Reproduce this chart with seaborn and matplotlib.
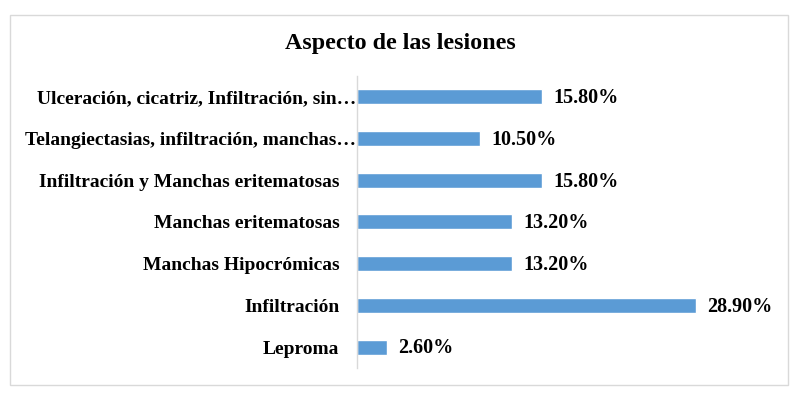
import matplotlib
matplotlib.use("Agg")
import matplotlib.pyplot as plt
import seaborn as sns
import pandas as pd
from matplotlib.patches import Rectangle

categories = [
    "Ulceración, cicatriz, Infiltración, sin…",
    "Telangiectasias, infiltración, manchas…",
    "Infiltración y Manchas eritematosas",
    "Manchas eritematosas",
    "Manchas Hipocrómicas",
    "Infiltración",
    "Leproma",
]
values = [15.8, 10.5, 15.8, 13.2, 13.2, 28.9, 2.6]
value_labels = ["15.80%", "10.50%", "15.80%", "13.20%", "13.20%", "28.90%", "2.60%"]

sns.set_theme(style="white")
plt.rcParams['font.family'] = ['Liberation Serif', 'DejaVu Serif']

df = pd.DataFrame({"cat": categories, "val": values})

fig = plt.figure(figsize=(8, 3.96), dpi=100)
ax = fig.add_axes([0.446, 0.071, 0.514, 0.737])

sns.barplot(data=df, x="val", y="cat", orient="h", color="#5B9BD5",
            width=0.36, saturation=1, ax=ax)

ax.set_xlim(0, 35)
ax.set_xlabel("")
ax.set_ylabel("")
ax.set_xticks([])
for s in ["top", "right", "bottom"]:
    ax.spines[s].set_visible(False)
ax.spines["left"].set_color("#d9d9d9")
ax.spines["left"].set_linewidth(1)
ax.tick_params(axis="y", length=0, pad=12.5)
for lbl in ax.get_yticklabels():
    lbl.set_fontweight("bold")
    lbl.set_fontsize(14)
    lbl.set_color("black")
    if lbl.get_text().endswith("…"):
        lbl.set_x(0.041)

for i, (v, t) in enumerate(zip(values, value_labels)):
    ax.annotate(t, xy=(v, i), xytext=(8, -1), textcoords="offset points",
                va="center", ha="left", fontsize=14.5, fontweight="bold", color="black")

fig.text(0.5, 0.89, "Aspecto de las lesiones", ha="center", va="center",
         fontsize=17.3, fontweight="bold", color="black")

fig.patches.append(Rectangle((10/800, 1-385/396), 778/800, 370/396,
                             transform=fig.transFigure, fill=False,
                             edgecolor="#d9d9d9", linewidth=1))

fig.savefig("out.png", dpi=100)
